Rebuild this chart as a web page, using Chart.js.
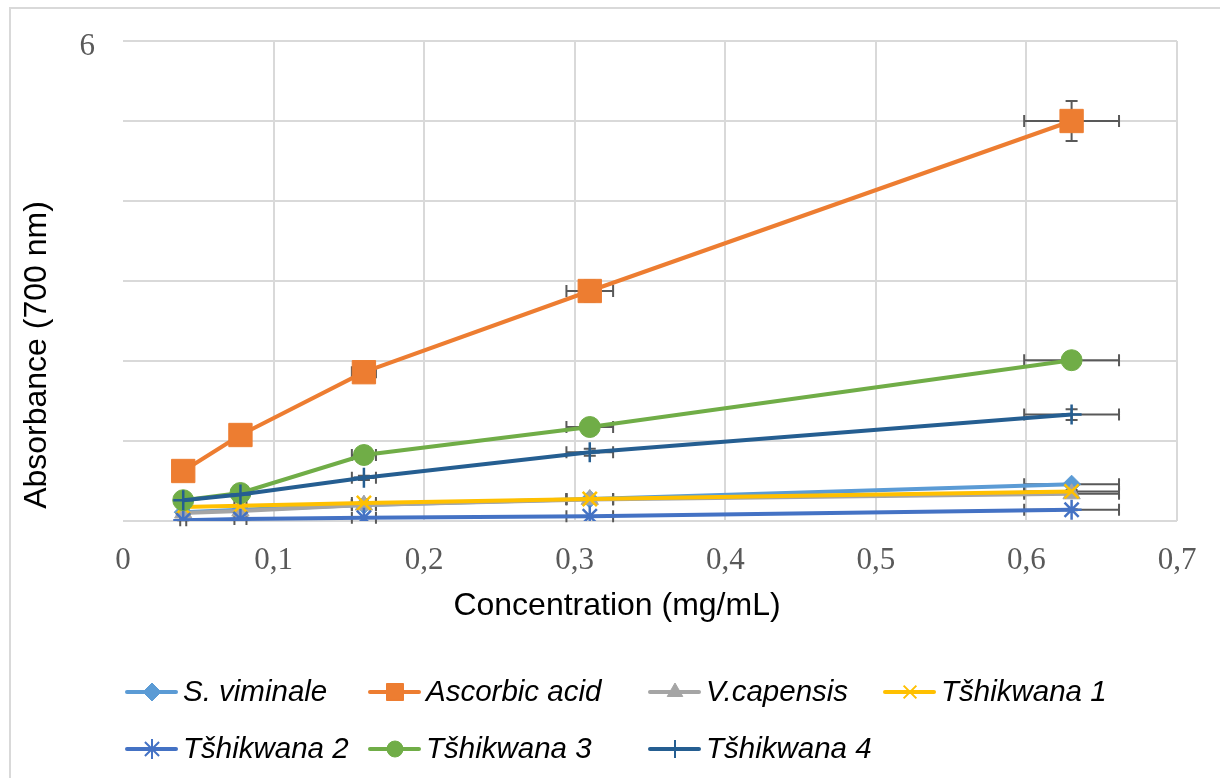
<!DOCTYPE html>
<html>
<head>
<meta charset="utf-8">
<script src="https://cdn.jsdelivr.net/npm/chart.js@4/dist/chart.umd.min.js"></script>
<style>
  html, body { margin: 0; padding: 0; background: #fff; overflow: hidden; }
  #cadre { position: absolute; left: 9px; top: 7px; width: 1400px; height: 900px; border: 2px solid #d9d9d9; }
  #wrap { position: absolute; left: 0; top: 0; width: 1220px; height: 778px; }
</style>
</head>
<body>
<div id="cadre"></div>
<div id="wrap"><canvas id="myChart" width="1220" height="778"></canvas></div>
<script>
// Concentrations (mg/mL)
const concentrations = [0.04, 0.078, 0.16, 0.31, 0.63];

// Absorbance a 700 nm, une liste par echantillon
const sViminale   = [0.11, 0.14, 0.2, 0.275, 0.46];
const ascorbique  = [0.625, 1.075, 1.86, 2.875, 5.0];
const vCapensis   = [0.1, 0.125, 0.2, 0.27, 0.34];
const tshikwana1  = [0.175, 0.19, 0.225, 0.275, 0.37];
const tshikwana2  = [0.01, 0.025, 0.04, 0.06, 0.14];
const tshikwana3  = [0.26, 0.35, 0.825, 1.175, 2.01];
const tshikwana4  = [0.26, 0.33, 0.54, 0.86, 1.33];

// Barres d'erreur
const erreurX = [0.002, 0.004, 0.008, 0.0155, 0.0315];
const erreurY_sViminale  = [0.006, 0.007, 0.01, 0.014, 0.023];
const erreurY_ascorbique = [0.03, 0.05, 0.09, 0.13, 0.25];
const erreurY_vCapensis  = [0.005, 0.006, 0.01, 0.013, 0.017];
const erreurY_tshikwana1 = [0.009, 0.01, 0.011, 0.014, 0.018];
const erreurY_tshikwana2 = [0.001, 0.001, 0.002, 0.003, 0.007];
const erreurY_tshikwana3 = [0.013, 0.017, 0.04, 0.06, 0.1];
const erreurY_tshikwana4 = [0.013, 0.016, 0.027, 0.043, 0.066];

const xTicks = [0, 0.1, 0.2, 0.3, 0.4, 0.5, 0.6, 0.7];
const yTicks = [6];
const titreX = 'Concentration (mg/mL)';
const titreY = 'Absorbance (700 nm)';

const series = [
    { nom: 'S. viminale',   valeurs: sViminale,  erreurs: erreurY_sViminale,  couleur: '#5B9BD5', forme: 'rectRot',  rayon: 9,    rayonLegende: 9 },
    { nom: 'Ascorbic acid', valeurs: ascorbique, erreurs: erreurY_ascorbique, couleur: '#ED7D31', forme: 'rect',     rayon: 16.5, rayonLegende: 12 },
    { nom: 'V.capensis',    valeurs: vCapensis,  erreurs: erreurY_vCapensis,  couleur: '#A5A5A5', forme: 'triangle', rayon: 10,   rayonLegende: 9 },
    { nom: 'Tšhikwana 1',   valeurs: tshikwana1, erreurs: erreurY_tshikwana1, couleur: '#FFC000', forme: 'crossRot', rayon: 10,   rayonLegende: 9 },
    { nom: 'Tšhikwana 2',   valeurs: tshikwana2, erreurs: erreurY_tshikwana2, couleur: '#4472C4', forme: 'star',     rayon: 10,   rayonLegende: 10 },
    { nom: 'Tšhikwana 3',   valeurs: tshikwana3, erreurs: erreurY_tshikwana3, couleur: '#70AD47', forme: 'circle',   rayon: 10.5, rayonLegende: 8 },
    { nom: 'Tšhikwana 4',   valeurs: tshikwana4, erreurs: erreurY_tshikwana4, couleur: '#255E91', forme: 'cross',    rayon: 10,   rayonLegende: 9 }
];

const datasets = series.map((s, i) => ({
    label: s.nom,
    data: concentrations.map((c, j) => ({ x: c, y: s.valeurs[j] })),
    borderColor: s.couleur,
    backgroundColor: s.couleur,
    borderWidth: 4,
    pointStyle: s.forme,
    pointRadius: s.rayon,
    pointBorderWidth: (s.forme === 'cross' || s.forme === 'crossRot' || s.forme === 'star') ? 2.5 : 1,
    pointBorderColor: s.couleur,
    pointBackgroundColor: s.couleur,
    tension: 0,
    order: series.length - i
}));

// Barres d'erreur dessinees avec les echelles du graphique
const barresErreur = {
    id: 'barresErreur',
    beforeDatasetsDraw(chart) {
        const ctx = chart.ctx;
        const xs = chart.scales.x, ys = chart.scales.y;
        ctx.save();
        ctx.strokeStyle = '#595959';
        ctx.lineWidth = 2;
        series.forEach(s => {
            concentrations.forEach((c, j) => {
                const v = s.valeurs[j];
                const px = xs.getPixelForValue(c), py = ys.getPixelForValue(v);
                const x1 = xs.getPixelForValue(c - erreurX[j]), x2 = xs.getPixelForValue(c + erreurX[j]);
                const y1 = ys.getPixelForValue(v - s.erreurs[j]), y2 = ys.getPixelForValue(v + s.erreurs[j]);
                ctx.beginPath();
                ctx.moveTo(x1, py); ctx.lineTo(x2, py);
                ctx.moveTo(x1, py - 6); ctx.lineTo(x1, py + 6);
                ctx.moveTo(x2, py - 6); ctx.lineTo(x2, py + 6);
                ctx.moveTo(px, y1); ctx.lineTo(px, y2);
                ctx.moveTo(px - 6, y1); ctx.lineTo(px + 6, y1);
                ctx.moveTo(px - 6, y2); ctx.lineTo(px + 6, y2);
                ctx.stroke();
            });
        });
        ctx.restore();
    }
};

// Titres des axes (places comme dans Excel)
const titresAxes = {
    id: 'titresAxes',
    afterDraw(chart) {
        const ctx = chart.ctx;
        ctx.save();
        ctx.fillStyle = '#000';
        ctx.font = '32px "Liberation Sans", Arial, sans-serif';
        ctx.textAlign = 'center';
        ctx.textBaseline = 'middle';
        ctx.fillText(titreX, 617, 606);
        ctx.translate(37, 355);
        ctx.rotate(-Math.PI / 2);
        ctx.fillText(titreY, 0, 0);
        ctx.restore();
    }
};

// Legende facon Excel (ligne + marqueur)
const colonnesLegende = [127, 370, 650, 885];
const lignesLegende = [692, 749];
const legendeExcel = {
    id: 'legendeExcel',
    afterDraw(chart) {
        const ctx = chart.ctx;
        ctx.save();
        series.forEach((s, i) => {
            const x = colonnesLegende[i % 4];
            const y = lignesLegende[Math.floor(i / 4)];
            ctx.strokeStyle = s.couleur;
            ctx.fillStyle = s.couleur;
            ctx.lineWidth = 4;
            ctx.lineCap = 'round';
            ctx.beginPath();
            ctx.moveTo(x, y); ctx.lineTo(x + 49, y);
            ctx.stroke();
            ctx.lineCap = 'butt';
            ctx.lineWidth = (s.forme === 'cross' || s.forme === 'crossRot' || s.forme === 'star') ? 2 : 1;
            Chart.helpers.drawPoint(ctx, { pointStyle: s.forme, radius: s.rayonLegende, rotation: 0, borderWidth: ctx.lineWidth }, x + 25, y);
            ctx.fillStyle = '#000';
            ctx.font = 'italic 29.5px "Liberation Sans", Arial, sans-serif';
            ctx.textBaseline = 'middle';
            ctx.textAlign = 'left';
            ctx.fillText(s.nom, x + 56, y + 1);
        });
        ctx.restore();
    }
};

const ctx = document.getElementById('myChart').getContext('2d');
const myChart = new Chart(ctx, {
    type: 'line',
    data: { datasets: datasets },
    plugins: [barresErreur, titresAxes, legendeExcel],
    options: {
        responsive: false,
        animation: false,
        layout: { padding: { top: 41, right: 43, bottom: 158, left: 0 } },
        plugins: { legend: { display: false }, tooltip: { enabled: false } },
        scales: {
            x: {
                type: 'linear',
                min: 0,
                max: 0.7,
                afterBuildTicks: scale => { scale.ticks = xTicks.map(v => ({ value: v })); },
                afterFit: scale => { scale.height = 99; scale.paddingLeft = 0; scale.paddingRight = 0; },
                grid: {
                    color: c => (c.tick && c.tick.value === 0) ? 'rgba(0,0,0,0)' : '#d9d9d9',
                    lineWidth: 2,
                    drawTicks: false
                },
                border: { display: false },
                ticks: {
                    padding: 21,
                    color: '#595959',
                    font: { family: '"Liberation Serif", "Times New Roman", serif', size: 31 },
                    callback: v => String(Math.round(v * 10) / 10).replace('.', ',')
                }
            },
            y: {
                min: 0,
                max: 6,
                afterFit: scale => { scale.width = 123; scale.paddingTop = 0; scale.paddingBottom = 0; },
                grid: { color: '#d9d9d9', lineWidth: 2, drawTicks: false },
                border: { display: false },
                ticks: {
                    stepSize: 1,
                    padding: 28,
                    labelOffset: 6,
                    color: '#595959',
                    font: { family: '"Liberation Serif", "Times New Roman", serif', size: 31 },
                    callback: v => yTicks.includes(v) ? String(v) : ''
                }
            }
        }
    }
});
</script>
</body>
</html>
